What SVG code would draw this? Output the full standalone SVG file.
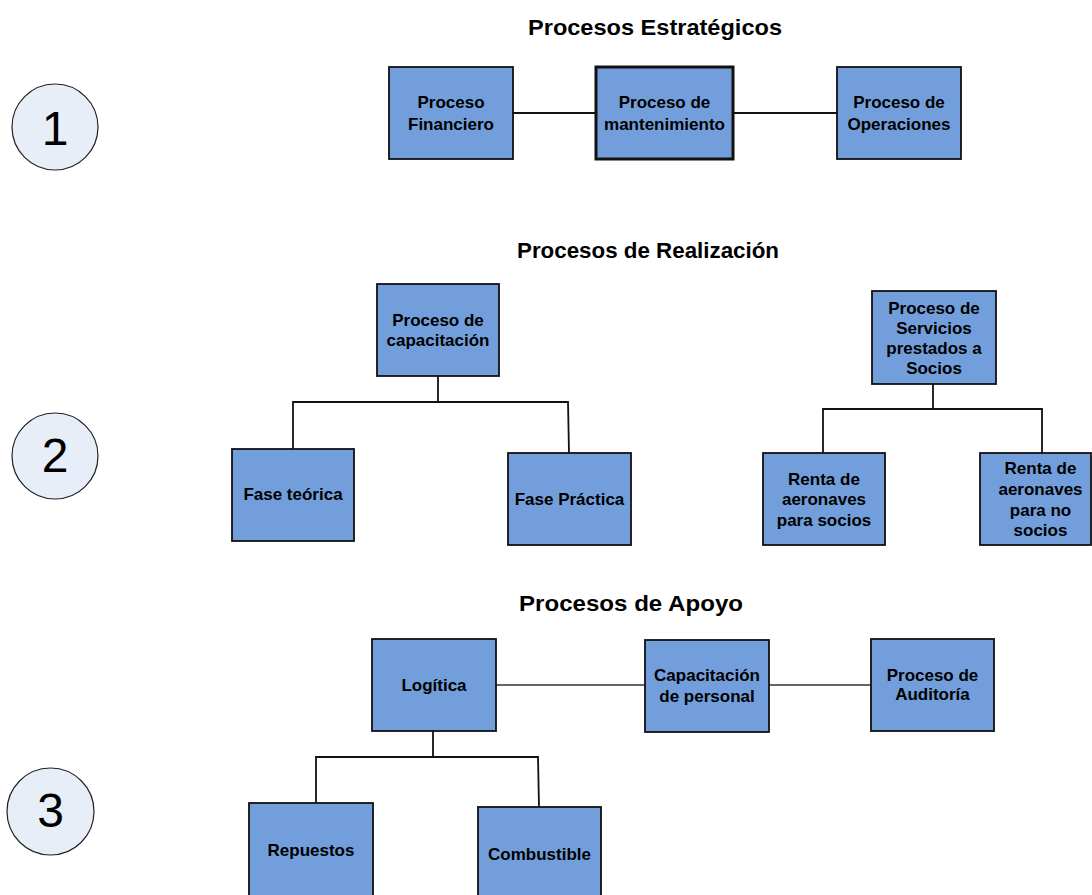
<svg xmlns="http://www.w3.org/2000/svg" width="1092" height="895" viewBox="0 0 1092 895">
<style>
.bg{fill:#ffffff}
.box{fill:#729fdb;stroke:#111;stroke-width:1.8}
.thick{stroke-width:3}
.lbl{font-family:"Liberation Sans",Arial,sans-serif;font-weight:bold;font-size:17px;fill:#000;text-anchor:middle}
.title{font-family:"Liberation Sans",Arial,sans-serif;font-weight:bold;font-size:22px;fill:#000;text-anchor:middle}
.circ{fill:#e8eef8;stroke:#222;stroke-width:1.2}
.num{font-family:"Liberation Sans",Arial,sans-serif;font-size:48px;fill:#000;text-anchor:middle}
.con{fill:none;stroke:#111;stroke-width:1.8}
.con2{fill:none;stroke:#333;stroke-width:1.3}
</style>
<rect class="bg" x="0" y="0" width="1092" height="895"/>

<g id="titles">
<text class="title" x="655" y="35" textLength="254" lengthAdjust="spacingAndGlyphs">Procesos Estratégicos</text>
<text class="title" x="648" y="258" textLength="262" lengthAdjust="spacingAndGlyphs">Procesos de Realización</text>
<text class="title" x="631" y="611" textLength="224" lengthAdjust="spacingAndGlyphs">Procesos de Apoyo</text>
</g>

<g id="marker1"><circle class="circ" cx="55" cy="127" r="43"/><text class="num" x="55" y="145">1</text></g>
<g id="marker2"><circle class="circ" cx="55" cy="456" r="43"/><text class="num" x="55" y="472">2</text></g>
<g id="marker3"><circle class="circ" cx="50.5" cy="811.5" r="43.5"/><text class="num" x="50.5" y="827">3</text></g>

<g id="connectors">
<line class="con" x1="513" y1="113" x2="596" y2="113"/>
<line class="con" x1="733" y1="113" x2="837" y2="113"/>
<polyline class="con" points="438,376 438,402"/>
<polyline class="con" points="293,449 293,402 568,402 569,453"/>
<polyline class="con" points="933,384 933,409"/>
<polyline class="con" points="823,453 823,409 1042,409 1042,453"/>
<line class="con2" x1="496" y1="685" x2="645" y2="685"/>
<line class="con2" x1="769" y1="685" x2="871" y2="685"/>
<polyline class="con" points="433,731 433,757"/>
<polyline class="con" points="316,803 316,757 538,757 539,807"/>
</g>

<g id="n-financiero"><rect class="box" x="389" y="67" width="124" height="92"/>
<text class="lbl" x="451" y="108">Proceso</text><text class="lbl" x="451" y="130">Financiero</text></g>
<g id="n-mantenimiento"><rect class="box thick" x="596" y="67" width="137" height="92"/>
<text class="lbl" x="664.5" y="108">Proceso de</text><text class="lbl" x="664.5" y="130">mantenimiento</text></g>
<g id="n-operaciones"><rect class="box" x="837" y="67" width="124" height="92"/>
<text class="lbl" x="899" y="108">Proceso de</text><text class="lbl" x="899" y="130">Operaciones</text></g>

<g id="n-capacitacion"><rect class="box" x="377" y="284" width="122" height="92"/>
<text class="lbl" x="438" y="326">Proceso de</text><text class="lbl" x="438" y="346">capacitación</text></g>
<g id="n-teorica"><rect class="box" x="232" y="449" width="122" height="92"/>
<text class="lbl" x="293" y="500">Fase teórica</text></g>
<g id="n-practica"><rect class="box" x="508" y="453" width="123" height="92"/>
<text class="lbl" x="569.5" y="505">Fase Práctica</text></g>

<g id="n-servicios"><rect class="box" x="872" y="291" width="124" height="93"/>
<text class="lbl" x="934" y="314">Proceso de</text><text class="lbl" x="934" y="334">Servicios</text><text class="lbl" x="934" y="354">prestados a</text><text class="lbl" x="934" y="374">Socios</text></g>
<g id="n-socios"><rect class="box" x="763" y="453" width="122" height="92"/>
<text class="lbl" x="824" y="485">Renta de</text><text class="lbl" x="824" y="505">aeronaves</text><text class="lbl" x="824" y="526">para socios</text></g>
<g id="n-nosocios"><rect class="box" x="980" y="453" width="111" height="92"/>
<text class="lbl" x="1040.5" y="474">Renta de</text><text class="lbl" x="1040.5" y="495">aeronaves</text><text class="lbl" x="1040.5" y="516">para no</text><text class="lbl" x="1040.5" y="536">socios</text></g>

<g id="n-logitica"><rect class="box" x="372" y="639" width="124" height="92"/>
<text class="lbl" x="434" y="691">Logítica</text></g>
<g id="n-capacitacion-personal"><rect class="box" x="645" y="640" width="124" height="92"/>
<text class="lbl" x="707" y="681">Capacitación</text><text class="lbl" x="707" y="702">de personal</text></g>
<g id="n-auditoria"><rect class="box" x="871" y="639" width="123" height="92"/>
<text class="lbl" x="932.5" y="681">Proceso de</text><text class="lbl" x="932.5" y="700">Auditoría</text></g>

<g id="n-repuestos"><rect class="box" x="249" y="803" width="124" height="100"/>
<text class="lbl" x="311" y="856">Repuestos</text></g>
<g id="n-combustible"><rect class="box" x="478" y="807" width="123" height="100"/>
<text class="lbl" x="539.5" y="860">Combustible</text></g>
</svg>
